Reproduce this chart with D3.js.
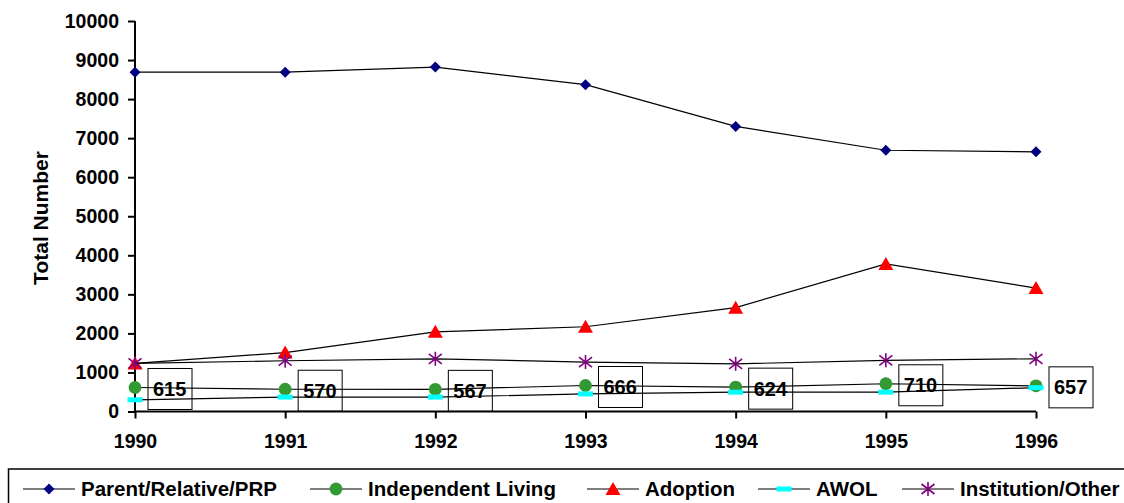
<!DOCTYPE html>
<html>
<head>
<meta charset="utf-8">
<script src="https://cdn.jsdelivr.net/npm/d3@7"></script>
<style>
  html, body { margin: 0; padding: 0; background: #fff; }
  svg { display: block; font-family: Arial, "Liberation Sans", sans-serif; font-weight: bold; }
</style>
</head>
<body>
<svg id="chart" width="1124" height="503"></svg>
<script>
// Placements by year, one array per destination
const years = ["1990", "1991", "1992", "1993", "1994", "1995", "1996"];
const parentRelative = [8690, 8690, 8820, 8370, 7300, 6690, 6650];
const independentLiving = [615, 570, 567, 666, 624, 710, 657];
const adoption = [1230, 1510, 2040, 2170, 2660, 3780, 3160];
const awol = [300, 370, 370, 450, 495, 495, 610];
const institutionOther = [1230, 1300, 1350, 1265, 1220, 1310, 1350];
const yTicks = [0, 1000, 2000, 3000, 4000, 5000, 6000, 7000, 8000, 9000, 10000];

const series = [
  { name: "Parent/Relative/PRP", values: parentRelative, marker: "diamond", color: "#000080" },
  { name: "Independent Living", values: independentLiving, marker: "circle", color: "#339933" },
  { name: "Adoption", values: adoption, marker: "triangle", color: "#FF0000" },
  { name: "AWOL", values: awol, marker: "dash", color: "#00FFFF" },
  { name: "Institution/Other", values: institutionOther, marker: "star", color: "#800080" }
];

const svg = d3.select("#chart");

const x = d3.scalePoint().domain(years).range([135, 1036]);
const y = d3.scaleLinear().domain([0, 10000]).range([411.5, 21]);

// Axes
const yAxis = svg.append("g")
  .attr("transform", "translate(135,0)")
  .call(d3.axisLeft(y).tickValues(yTicks).tickSize(7).tickPadding(9).tickFormat(d3.format("d")));
const xAxis = svg.append("g")
  .attr("transform", `translate(0,${y(0)})`)
  .call(d3.axisBottom(x).tickSize(7).tickPadding(9));

[yAxis, xAxis].forEach(g => {
  g.select(".domain").attr("stroke", "#000").attr("stroke-width", 2);
  g.selectAll(".tick line").attr("stroke", "#000").attr("stroke-width", 2);
  g.selectAll(".tick text")
    .attr("fill", "#000")
    .style("font-family", "Arial, 'Liberation Sans', sans-serif")
    .style("font-weight", "bold")
    .style("font-size", "19.5px");
});
// axisLeft/axisBottom draw the domain with outer ticks; keep only the plain lines
yAxis.select(".domain").attr("d", `M0,${y(10000)}V${y(0)}`);
xAxis.select(".domain").attr("d", `M${x(years[0])},0H${x(years[years.length - 1])}`);
xAxis.selectAll(".tick text").attr("dy", "1.05em");

// Y axis title
svg.append("text")
  .attr("transform", `translate(48,218) rotate(-90)`)
  .attr("text-anchor", "middle")
  .style("font-size", "21px")
  .attr("fill", "#000")
  .text("Total Number");

// Marker shapes
function drawMarker(g, type, color) {
  if (type === "diamond") {
    g.append("path").attr("d", "M0,-5.5L5.5,0L0,5.5L-5.5,0Z").attr("fill", color);
  } else if (type === "circle") {
    g.append("circle").attr("r", 6.4).attr("fill", color);
  } else if (type === "triangle") {
    g.append("path").attr("d", "M0,-7L7.5,6L-7.5,6Z").attr("fill", color);
  } else if (type === "dash") {
    g.append("rect").attr("x", -7.5).attr("y", -2.5).attr("width", 15).attr("height", 5).attr("fill", color);
  } else if (type === "star") {
    g.append("path")
      .attr("d", "M0,-7V7M-6.5,-5L6.5,5M-6.5,5L6.5,-5")
      .attr("stroke", color).attr("stroke-width", 1.6).attr("fill", "none");
  }
}

const line = d3.line().x((d, i) => x(years[i])).y(d => y(d));

series.forEach(s => {
  const g = svg.append("g");
  g.append("path")
    .attr("d", line(s.values))
    .attr("fill", "none")
    .attr("stroke", "#000")
    .attr("stroke-width", 1.2);
  s.values.forEach((v, i) => {
    const m = g.append("g").attr("transform", `translate(${x(years[i])},${y(v)})`);
    drawMarker(m, s.marker, s.color);
  });
});

// Value labels for Independent Living, boxed beside each point
const labels = svg.append("g");
independentLiving.forEach((v, i) => {
  const px = x(years[i]) + 13;
  const cy = y(v) + 1.5;
  labels.append("rect")
    .attr("x", px).attr("y", cy - 20.5)
    .attr("width", 44).attr("height", 41)
    .attr("fill", "none").attr("stroke", "#000").attr("stroke-width", 1);
  labels.append("text")
    .attr("x", px + 5).attr("y", cy + 7)
    .style("font-size", "20px")
    .attr("fill", "#000")
    .text(d3.format("d")(v));
});

// Legend
const legend = svg.append("g");
legend.append("rect")
  .attr("x", 8.5).attr("y", 469)
  .attr("width", 1140).attr("height", 60)
  .attr("fill", "none").attr("stroke", "#000").attr("stroke-width", 1.5);
const legendX = [23, 310, 587, 758, 902];
series.forEach((s, i) => {
  const g = legend.append("g").attr("transform", `translate(${legendX[i]},489)`);
  g.append("line").attr("x1", 0).attr("x2", 52).attr("stroke", "#000").attr("stroke-width", 1.2);
  const m = g.append("g").attr("transform", "translate(26,0)");
  drawMarker(m, s.marker, s.color);
  g.append("text")
    .attr("x", 58).attr("y", 7)
    .style("font-size", "20.5px")
    .attr("fill", "#000")
    .text(s.name);
});
</script>
</body>
</html>
